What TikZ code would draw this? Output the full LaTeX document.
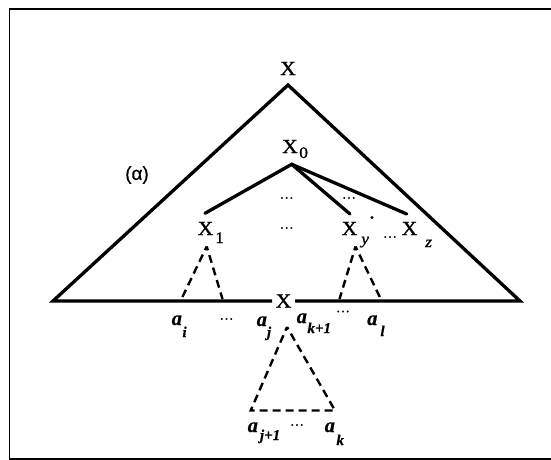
\documentclass[tikz,border=0pt]{standalone}
\usepackage{fontspec}
\setmainfont{Liberation Serif}
\newfontfamily\xfont[FakeBold=1,FakeStretch=1.08]{Liberation Serif}
\newfontfamily\afont[FakeBold=0.6]{Liberation Serif}
\newfontfamily\alphafont[FakeBold=0.4]{Liberation Sans}
\newcommand{\lsub}[3][3]{\kern#1pt\raisebox{-#2pt}{\fontsize{16}{16}\selectfont #3}}
\newcommand{\asub}[3][1]{\kern#1pt\raisebox{-#2pt}{\fontsize{15}{15}\selectfont\bfseries\itshape #3}}
\begin{document}
\begin{tikzpicture}[x=1pt,y=-1pt,
  lbl/.style={inner sep=0pt, font=\fontsize{20}{20}\selectfont\xfont},
  albl/.style={inner sep=0pt, font=\fontsize{20.5}{20}\selectfont\afont\bfseries\itshape},
  dotlbl/.style={inner sep=0pt, font=\fontsize{13}{13}\selectfont\xfont},
  solidline/.style={line width=3.3pt, line join=miter},
  branch/.style={line width=3.3pt, line cap=round},
  dashline/.style={line width=2.4pt, dash pattern=on 8pt off 5pt, dash phase=4pt},
]
\useasboundingbox (0,0) rectangle (551,460);
\draw[line width=1.4pt] (9.5,9) rectangle (560,459);

% big triangle
\coordinate (A) at (288,85);
\coordinate (L) at (53,301);
\coordinate (R) at (520,301);
\node[lbl, anchor=base] (xtop) at (288,75) {X};
\node[lbl, inner xsep=3.5pt, inner ysep=1pt] (xm) at (283.5,301) {X};
\draw[solidline] (xm.west) -- (L) -- (A) -- (R) -- (xm.east);

% X0 and its children
\node[lbl, anchor=base west] (x0) at (282,153) {X\lsub[1.5]{5}{0}};
\coordinate (x0a) at (291.7,164.3);
\coordinate (c1) at (205,213.3);
\coordinate (cy) at (350,214);
\coordinate (cz) at (406.7,214);
\draw[branch] (c1) -- (x0a) -- (cy);
\draw[branch] (x0a) -- (cz);

\node[dotlbl] (d1) at (286.7,198) {\ldots};
\node[dotlbl] (d2) at (349,198) {\ldots};
\node[dotlbl] (d3) at (286.7,228) {\ldots};
\node[dotlbl] (d4) at (390,237) {\ldots};
\fill (372,217.5) circle (1.7pt);

\node[lbl, anchor=base west] (x1) at (197.5,235) {X\lsub[2]{8}{1}};
\node[lbl, anchor=base west] (xy) at (341.5,235) {X\lsub[4]{9}{\itshape y}};
\node[lbl, anchor=base west] (xz) at (401.5,235) {X\lsub[8]{12}{\itshape z}};

\node[font=\fontsize{19}{19}\selectfont\alphafont, inner sep=0pt] (alpha) at (137,175) {(α)};

% dashed subtrees
\coordinate (t1) at (206.7,246.5);
\coordinate (t1l) at (180.5,301);
\coordinate (t1r) at (222.5,299);
\draw[dashline] (t1) -- (t1l);
\draw[dashline] (t1) -- (t1r);
\coordinate (ty) at (355.5,246.5);
\coordinate (tyl) at (339.5,299);
\coordinate (tyr) at (381.7,301);
\draw[dashline] (ty) -- (tyl);
\draw[dashline] (ty) -- (tyr);

\coordinate (tm) at (287,327);
\coordinate (tml) at (250.7,410.5);
\coordinate (tmr) at (335,410.5);
\draw[dashline] (tm) -- (tml) -- (tmr) -- cycle;

% leaves
\node[albl, anchor=base west] (ai) at (171.5,325) {a\asub[0.5]{12}{i}};
\node[dotlbl] (d5) at (226.5,319) {\ldots};
\node[albl, anchor=base west] (aj) at (256.5,326) {a\asub[0]{11}{j}};
\node[albl, anchor=base west] (ak1) at (296.5,323) {a\asub[0.5]{10}{k+1}};
\node[dotlbl] (d6) at (343,311.5) {\ldots};
\node[albl, anchor=base west] (al) at (367,325) {a\asub[3]{11}{l}};
\node[albl, anchor=base west] (aj1) at (247.5,432) {a\asub[2]{8}{j+1}};
\node[dotlbl] (d7) at (297,425) {\ldots};
\node[albl, anchor=base west] (ak) at (324.5,432) {a\asub[1.5]{13}{k}};
\end{tikzpicture}
\end{document}
